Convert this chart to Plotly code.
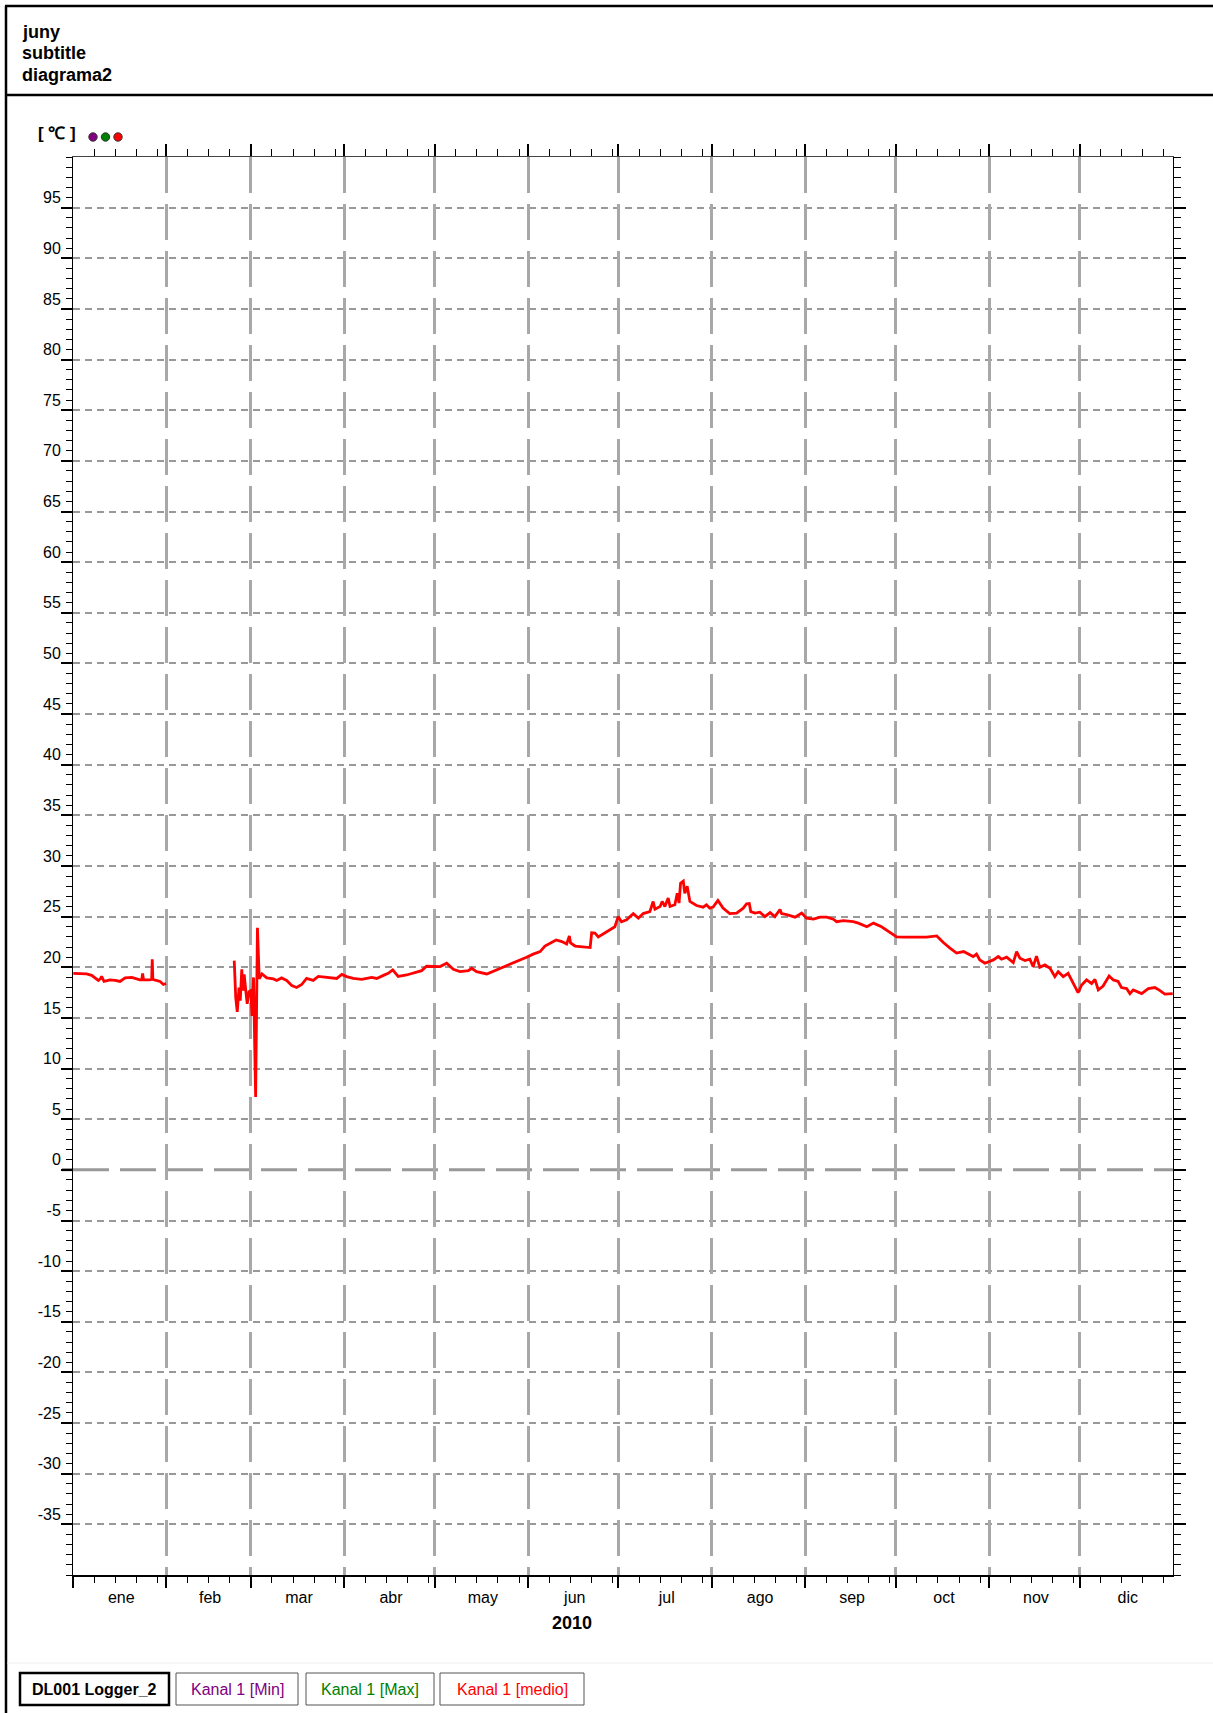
import pandas as pd
import plotly.graph_objects as go

# ---------------- data ----------------
# day offset from 2010-01-01 00:00 and temperature of "Kanal 1 [medio]"
medio_day = [
    0.1, 2.5, 4.5, 6.2, 8.4, 9.2, 9.5, 10.3, 12.3, 14.0, 15.6, 17.3, 19.5, 22.2,
    22.8, 23.1, 23.4, 25.5, 26.1, 26.3, 26.5, 27.0, 28.9, 30.0, 30.9,
    31.5,
    53.5, 54.0, 54.5, 55.1, 55.5, 56.0, 56.4, 56.8, 57.4, 57.8, 58.4, 59.0, 59.4,
    59.9, 60.6, 61.2, 61.8, 62.7, 64.3, 66.5, 67.6, 69.2, 70.9, 72.6, 74.2, 75.9,
    77.5, 79.7, 81.4, 84.2, 87.5, 89.2, 90.8, 93.0, 95.8, 99.1, 100.8, 103.0,
    104.6, 106.1, 107.9, 110.7, 114.0, 115.7, 117.3, 119.6, 121.8, 124.0, 126.2,
    128.4, 131.2, 132.3, 133.9, 137.3, 140.6, 143.9, 147.2, 150.5, 152.7, 155.0,
    156.6, 158.3, 160.3, 162.2, 163.8, 164.7, 165.1, 166.6, 169.3, 171.6, 172.1,
    173.2, 174.3, 176.0, 178.2, 179.8, 180.9, 182.0, 183.7, 185.9, 187.6, 189.2,
    191.4, 192.5, 193.1, 194.8, 195.5, 196.4, 197.5, 198.1, 199.7, 200.5, 201.1,
    201.6, 202.5, 203.0, 203.8, 204.7, 206.9, 209.1, 210.2, 211.3, 212.4, 214.0,
    215.7, 217.9, 220.2, 222.4, 223.5, 224.4, 224.9, 226.3, 227.9, 229.6, 231.3,
    232.9, 234.6, 235.1, 236.8, 239.6, 241.8, 243.4, 245.7, 247.9, 250.1, 252.3,
    253.4, 255.6, 258.9, 260.6, 263.4, 265.6, 268.3, 270.6, 273.3, 275.6, 278.9,
    283.2, 286.6, 288.8, 291.0, 293.2, 295.5, 297.6, 298.7, 299.8, 300.9, 302.6,
    304.3, 305.4, 307.0, 308.1, 309.8, 312.0, 313.1, 314.2, 315.9, 317.5, 318.6,
    319.7, 320.8, 322.5, 324.2, 325.8, 326.9, 328.6, 330.2, 331.3, 332.4, 333.5,
    334.7, 336.3, 338.0, 339.1, 340.2, 341.8, 343.8, 345.2, 346.8, 347.9, 349.6,
    350.7, 351.8, 354.6, 356.8, 359.0, 360.7, 362.3, 364.9,
]
medio_val = [
    19.4, 19.4, 19.35, 19.2, 18.7, 18.9, 19.1, 18.6, 18.75, 18.7, 18.6, 18.95, 19.0, 18.75,
    18.75, 19.4, 18.75, 18.75, 18.8, 20.8, 18.8, 18.75, 18.6, 18.3, 18.4,
    None,
    20.66, 17.0, 15.6, 18.0, 16.7, 19.8, 17.7, 19.3, 17.5, 16.4, 17.6, 17.7, 15.2,
    19.0, 7.2, 23.9, 18.85, 19.35, 18.95, 18.85, 18.7, 18.95, 18.7, 18.2, 18.0, 18.3,
    18.9, 18.7, 19.1, 19.0, 18.9, 19.3, 19.08, 18.9, 18.8, 19.0, 18.9, 19.2,
    19.4, 19.75, 19.1, 19.24, 19.57, 19.67, 20.1, 20.1, 20.07, 20.4, 19.8,
    19.57, 19.67, 19.9, 19.57, 19.34, 19.74, 20.13, 20.6, 20.99, 21.3, 21.55,
    22.1, 22.4, 22.7, 22.54, 22.3, 23.1, 22.4, 22.1, 22.05, 21.95, 23.4,
    23.37, 23.0, 23.3, 23.7, 24.0, 25.0, 24.5, 24.7, 25.3, 24.85, 25.3,
    25.5, 26.5, 25.74, 26.0, 26.5, 26.0, 26.83, 26.0, 26.17, 27.3, 26.34,
    28.3, 28.5, 27.3, 28.0, 26.5, 26.1, 25.94, 26.17, 25.84, 25.94, 26.6,
    25.84, 25.3, 25.35, 25.84, 26.27, 26.3, 25.5, 25.35, 25.44, 25.0, 25.4,
    25.0, 25.7, 25.3, 25.2, 24.95, 25.35, 24.85, 24.75, 24.95, 24.95, 24.75,
    24.5, 24.6, 24.5, 24.36, 24.0, 24.36, 24.0, 23.5, 23.0, 22.97, 23.0,
    22.97, 23.1, 22.44, 21.9, 21.4, 21.55, 21.2, 21.06, 21.3, 20.73, 20.4,
    20.56, 20.73, 21.06, 20.8, 21.0, 20.46, 21.55, 20.9, 20.66, 20.8, 20.07,
    21.1, 20.0, 20.23, 19.9, 19.08, 19.57, 19.08, 19.4, 18.75, 18.25, 17.5,
    18.25, 18.75, 18.4, 18.8, 17.76, 18.15, 19.14, 18.75, 18.6, 18.0, 17.9,
    17.4, 17.76, 17.4, 17.9, 18.0, 17.7, 17.36, 17.4,
]
month_names = ["ene", "feb", "mar", "abr", "may", "jun",
               "jul", "ago", "sep", "oct", "nov", "dic"]
y_ticks = list(range(-35, 100, 5))
header_lines = ["juny", "subtitle", "diagrama2"]
legend_items = ["DL001 Logger_2", "Kanal 1 [Min]", "Kanal 1 [Max]", "Kanal 1 [medio]"]
legend_colors = ["#000000", "#800080", "#008000", "#ff0000"]
series_dot_colors = ["#800080", "#008000", "#ff0000"]

# ---------------- layout helpers ----------------
FONT = "Liberation Sans, Arial, Helvetica, sans-serif"
W, H = 1213, 1713
L, R, T, B = 73, 1173, 157, 1575


def pxx(p):
    return (p - L) / (R - L)


def pxy(p):
    return (B - p) / (B - T)


fmt = "%Y-%m-%d %H:%M:%S"
year_start = pd.Timestamp("2010-01-01")
x_dates = [(year_start + pd.Timedelta(days=d)).strftime(fmt) for d in medio_day]

month_starts = pd.date_range("2010-01-01", "2011-01-01", freq="MS")
month_mid = [(month_starts[i] + (month_starts[i + 1] - month_starts[i]) / 2
              + pd.Timedelta(hours=12)).strftime(fmt)
             for i in range(12)]
starts_all = [m.strftime(fmt) for m in month_starts[:-1]]
starts_inner = [m.strftime(fmt) for m in month_starts[1:-1]]
weekly = []
for i in range(12):
    for off in (7, 14, 21, 28):
        d = month_starts[i] + pd.Timedelta(days=off)
        if d < month_starts[i + 1]:
            weekly.append(d.strftime(fmt))
xr = ["2010-01-01", "2011-01-01"]
yr = [-40, 100]

fig = go.Figure()
fig.add_trace(go.Scatter(x=x_dates, y=medio_val, mode="lines", connectgaps=False,
                         line=dict(color="#ff0000", width=2.8),
                         name="Kanal 1 [medio]", showlegend=False))
for xa, ya in [("x2", "y"), ("x3", "y"), ("x", "y2"), ("x", "y3")]:
    fig.add_trace(go.Scatter(x=[], y=[], xaxis=xa, yaxis=ya, showlegend=False,
                             hoverinfo="skip"))

tickfont = dict(family=FONT, size=16, color="black")
minor_x = dict(tickmode="array", tickvals=weekly, ticks="outside", ticklen=7,
               tickcolor="black", tickwidth=1, showgrid=False)
minor_y = dict(tickmode="linear", tick0=0, dtick=1, ticks="outside", ticklen=7,
               tickcolor="black", tickwidth=1, showgrid=False)

fig.update_layout(
    width=W, height=H, autosize=False,
    margin=dict(l=L, r=W - R, t=T, b=H - B, pad=0),
    paper_bgcolor="white", plot_bgcolor="white",
    showlegend=False,
    font=dict(family=FONT, color="black"),
    xaxis=dict(type="date", range=xr, tickmode="array", tickvals=month_mid,
               ticktext=month_names, ticks="outside", ticklen=7,
               tickcolor="rgba(0,0,0,0)", showgrid=False, zeroline=False,
               showline=True, linecolor="black", linewidth=1.5, tickfont=tickfont),
    xaxis2=dict(type="date", range=xr, overlaying="x", side="top", anchor="y",
                tickmode="array", tickvals=starts_inner, ticks="outside", ticklen=12,
                tickwidth=1.5, tickcolor="black", showticklabels=False,
                showgrid=True, gridcolor="#a8a8a8", gridwidth=3,
                griddash="36px,11px", showline=True, linecolor="#444",
                linewidth=1, zeroline=False, minor=minor_x),
    xaxis3=dict(type="date", range=xr, overlaying="x", side="bottom", anchor="y",
                tickmode="array", tickvals=starts_all, ticks="outside", ticklen=12,
                tickwidth=1.5, tickcolor="black", showticklabels=False,
                showgrid=False, showline=False, zeroline=False, minor=minor_x),
    yaxis=dict(range=yr, tickmode="array", tickvals=y_ticks,
               ticktext=[str(v) for v in y_ticks], ticks="outside", ticklen=11,
               tickwidth=1.5, tickcolor="black", showgrid=False, zeroline=False,
               showline=True, linecolor="black", linewidth=1,
               ticklabelshift=-10, ticklabelstandoff=-3, tickfont=tickfont,
               minor=dict(minor_y, ticklen=6)),
    yaxis2=dict(range=yr, overlaying="y", side="right", anchor="x",
                tickmode="array", tickvals=y_ticks, ticks="outside", ticklen=12,
                tickwidth=1.5, tickcolor="black", showticklabels=False,
                showgrid=False, zeroline=False, showline=True,
                linecolor="black", linewidth=1, minor=minor_y),
    yaxis3=dict(range=yr, overlaying="y", side="left", anchor="x",
                tickmode="array", tickvals=[v for v in y_ticks if v != 0],
                ticks="", showticklabels=False, showgrid=True,
                gridcolor="#999999", gridwidth=2, griddash="7px,5px",
                zeroline=False, showline=False),
)

shapes = []
# zero line (long dash) and its heavier tick on the left axis
shapes.append(dict(type="line", xref="paper", yref="y", x0=0, x1=1, y0=0, y1=0,
                   line=dict(color="#999999", width=3, dash="36px,11px"), layer="below"))
shapes.append(dict(type="line", xref="paper", yref="y", x0=pxx(62), x1=pxx(73),
                   y0=0, y1=0, line=dict(color="black", width=2.5)))
# page frame and header separator
frame = dict(color="black", width=2.5)
shapes.append(dict(type="line", xref="paper", yref="paper", x0=pxx(6), x1=pxx(6),
                   y0=pxy(6), y1=pxy(H + 5), line=frame))
shapes.append(dict(type="line", xref="paper", yref="paper", x0=pxx(5), x1=pxx(W + 5),
                   y0=pxy(6), y1=pxy(6), line=frame))
shapes.append(dict(type="line", xref="paper", yref="paper", x0=pxx(5), x1=pxx(W + 5),
                   y0=pxy(95), y1=pxy(95), line=frame))
# faint separator above legend
shapes.append(dict(type="line", xref="paper", yref="paper", x0=pxx(7), x1=pxx(W + 5),
                   y0=pxy(1663), y1=pxy(1663), line=dict(color="#eeeeee", width=1)))
# series dots next to unit
for i, c in enumerate(series_dot_colors):
    cx = 93 + i * 12.5
    shapes.append(dict(type="circle", xref="paper", yref="paper",
                       xsizemode="pixel", ysizemode="pixel",
                       xanchor=pxx(cx), yanchor=pxy(137),
                       x0=-4.2, x1=4.2, y0=-4.2, y1=4.2,
                       fillcolor=c, line=dict(color="#333333", width=1)))
# legend boxes
boxes = [(20, 169), (176, 298), (306, 434), (440, 584)]
annotations = []
for i, ((x0, x1), txt, col) in enumerate(zip(boxes, legend_items, legend_colors)):
    shapes.append(dict(type="rect", xref="paper", yref="paper",
                       x0=pxx(x0), x1=pxx(x1), y0=pxy(1673), y1=pxy(1705),
                       line=dict(color="black" if i == 0 else "#555555",
                                 width=2.5 if i == 0 else 1),
                       fillcolor="rgba(0,0,0,0)"))
    annotations.append(dict(xref="paper", yref="paper", x=pxx((x0 + x1) / 2),
                            y=pxy(1689), text=f"<b>{txt}</b>" if i == 0 else txt,
                            showarrow=False, xanchor="center", yanchor="middle",
                            font=dict(family=FONT, size=16, color=col)))
# header text
for txt, yy in zip(header_lines, [32, 53, 75]):
    annotations.append(dict(xref="paper", yref="paper", x=pxx(20), y=pxy(yy),
                            text=f"<b>{txt}</b>", showarrow=False, xanchor="left",
                            yanchor="middle", font=dict(family=FONT, size=18, color="black")))
# unit label
annotations.append(dict(xref="paper", yref="paper", x=pxx(57), y=pxy(134),
                        text="<b>[ ℃ ]</b>", showarrow=False, xanchor="center",
                        yanchor="middle", font=dict(family=FONT, size=17, color="black")))
# year label
annotations.append(dict(xref="paper", yref="paper", x=pxx(572), y=pxy(1623),
                        text="<b>2010</b>", showarrow=False, xanchor="center",
                        yanchor="middle", font=dict(family=FONT, size=18, color="black")))

fig.update_layout(shapes=shapes, annotations=annotations)

fig.write_html("out.html", config={"displayModeBar": False},
               post_script="document.body.style.margin='0';")
